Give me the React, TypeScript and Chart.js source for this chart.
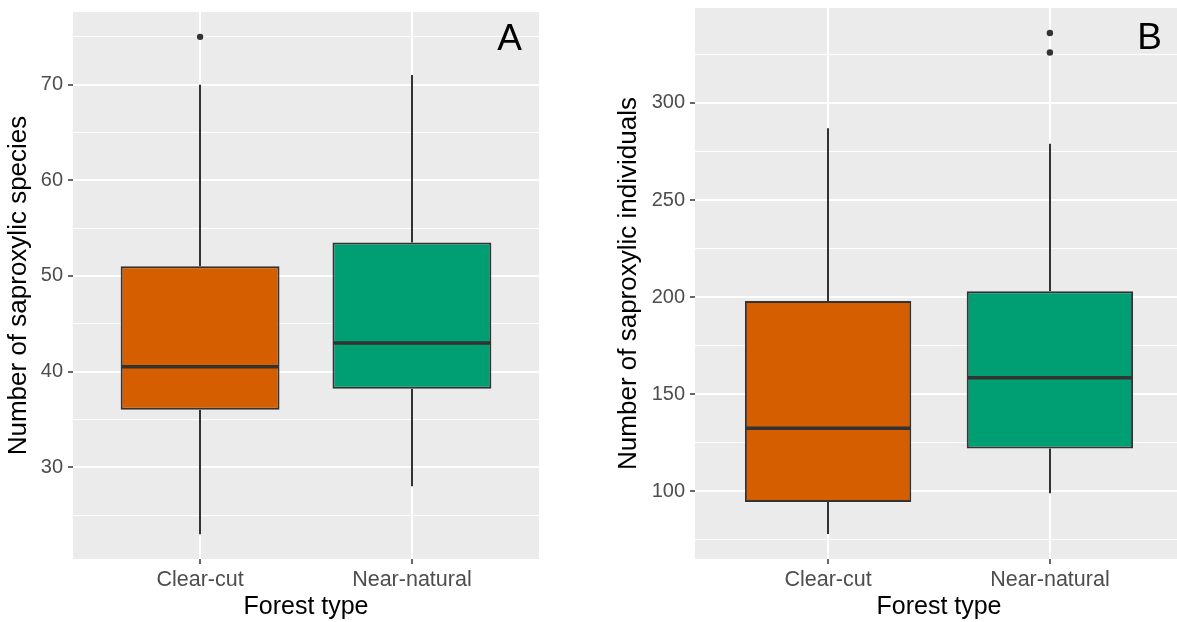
import React, { useEffect, useRef } from 'react';
import { Chart, registerables } from 'chart.js';

Chart.register(...registerables);

// ---------- data ----------
const categories = ['Clear-cut', 'Near-natural'];
const categoryPositions = [1, 2];
const boxColors = ['#D55E00', '#009E73'];

// Panel A: number of saproxylic species
const speciesLower = [23, 28];
const speciesQ1 = [36, 38.2];
const speciesMedian = [40.5, 43];
const speciesQ3 = [51, 53.5];
const speciesUpper = [70, 71];
const speciesOutliers = [[75], []];
const speciesTicks = [30, 40, 50, 60, 70];
const speciesMinorTicks = [25, 35, 45, 55, 65, 75];

// Panel B: number of saproxylic individuals
const individualsLower = [78, 99];
const individualsQ1 = [94.5, 122];
const individualsMedian = [132.5, 158.5];
const individualsQ3 = [198, 203];
const individualsUpper = [287, 279];
const individualsOutliers = [[], [326, 336]];
const individualsTicks = [100, 150, 200, 250, 300];
const individualsMinorTicks = [75, 125, 175, 225, 275, 325];

const FONT = "'Liberation Sans', Arial, Helvetica, sans-serif";

type Panel = {
  letter: string;
  yTitle: string;
  lower: number[];
  q1: number[];
  median: number[];
  q3: number[];
  upper: number[];
  outliers: number[][];
  ticks: number[];
  minorTicks: number[];
  canvasWidth: number;
  yAxisWidth: number;
  padTop: number;
  padRight: number;
  yTitlePad: number;
  letterRight: number;
  letterBaseline: number;
};

const panels: Panel[] = [
  {
    letter: 'A',
    yTitle: 'Number of saproxylic species',
    lower: speciesLower,
    q1: speciesQ1,
    median: speciesMedian,
    q3: speciesQ3,
    upper: speciesUpper,
    outliers: speciesOutliers,
    ticks: speciesTicks,
    minorTicks: speciesMinorTicks,
    canvasWidth: 580,
    yAxisWidth: 73,
    padTop: 12,
    padRight: 41,
    yTitlePad: 3,
    letterRight: 17,
    letterBaseline: 38,
  },
  {
    letter: 'B',
    yTitle: 'Number of saproxylic individuals',
    lower: individualsLower,
    q1: individualsQ1,
    median: individualsMedian,
    q3: individualsQ3,
    upper: individualsUpper,
    outliers: individualsOutliers,
    ticks: individualsTicks,
    minorTicks: individualsMinorTicks,
    canvasWidth: 610,
    yAxisWidth: 115,
    padTop: 8,
    padRight: 7,
    yTitlePad: 33,
    letterRight: 21,
    letterBaseline: 41,
  },
];

const boxExtras = {
  id: 'boxExtras',
  beforeDraw(chart: any) {
    const { ctx, chartArea } = chart;
    ctx.save();
    ctx.fillStyle = '#EBEBEB';
    ctx.fillRect(chartArea.left, chartArea.top, chartArea.right - chartArea.left, chartArea.bottom - chartArea.top);
    ctx.restore();
  },
  beforeDatasetsDraw(chart: any, _args: any, opts: any) {
    const p: Panel = opts.panel;
    const { ctx, scales } = chart;
    const xs = scales.x;
    const ys = scales.y;
    ctx.save();
    ctx.strokeStyle = '#333333';
    ctx.lineWidth = 2;
    categoryPositions.forEach((pos, i) => {
      const x = Math.round(xs.getPixelForValue(pos));
      ctx.beginPath();
      ctx.moveTo(x, ys.getPixelForValue(p.q3[i]));
      ctx.lineTo(x, ys.getPixelForValue(p.upper[i]));
      ctx.moveTo(x, ys.getPixelForValue(p.q1[i]));
      ctx.lineTo(x, ys.getPixelForValue(p.lower[i]));
      ctx.stroke();
    });
    ctx.restore();
  },
  afterDatasetsDraw(chart: any, _args: any, opts: any) {
    const p: Panel = opts.panel;
    const { ctx, scales, chartArea } = chart;
    const ys = scales.y;
    const meta = chart.getDatasetMeta(0);
    ctx.save();
    ctx.strokeStyle = '#333333';
    ctx.lineWidth = 3.5;
    meta.data.forEach((bar: any, i: number) => {
      const y = ys.getPixelForValue(p.median[i]);
      ctx.beginPath();
      ctx.moveTo(bar.x - bar.width / 2 + 1, y);
      ctx.lineTo(bar.x + bar.width / 2 - 1, y);
      ctx.stroke();
    });
    ctx.fillStyle = '#000000';
    ctx.font = `37px ${FONT}`;
    ctx.textAlign = 'right';
    ctx.textBaseline = 'alphabetic';
    ctx.fillText(p.letter, chartArea.right - p.letterRight, chartArea.top + p.letterBaseline);
    ctx.restore();
  },
};

function makeConfig(p: Panel): any {
  const all = [...p.lower, ...p.upper, ...p.outliers.flat()];
  const dMin = Math.min(...all);
  const dMax = Math.max(...all);
  const span = dMax - dMin;
  const yTickValues = [...p.ticks, ...p.minorTicks].sort((a, b) => a - b);
  const outlierPoints = p.outliers.flatMap((vals, i) => vals.map((v) => ({ x: categoryPositions[i], y: v })));
  return {
    type: 'bar',
    data: {
      datasets: [
        {
          type: 'bar',
          data: categoryPositions.map((x, i) => ({ x, y: [p.q1[i], p.q3[i]] })),
          backgroundColor: boxColors,
          borderColor: '#333333',
          borderWidth: 2,
          borderSkipped: false,
          categoryPercentage: 0.75,
          barPercentage: 1,
        },
        {
          type: 'scatter',
          data: outlierPoints,
          pointRadius: 3.2,
          pointBackgroundColor: '#333333',
          pointBorderWidth: 0,
        },
      ],
    },
    options: {
      responsive: false,
      animation: false,
      events: [],
      layout: { padding: { left: 0, top: p.padTop, right: p.padRight, bottom: 0 } },
      plugins: {
        legend: { display: false },
        tooltip: { enabled: false },
        boxExtras: { panel: p },
      },
      scales: {
        x: {
          type: 'linear',
          offset: false,
          min: 0.4,
          max: 2.6,
          afterBuildTicks: (scale: any) => {
            scale.ticks = categoryPositions.map((v) => ({ value: v }));
          },
          afterFit: (scale: any) => {
            scale.height = 63;
            scale.paddingLeft = 0;
            scale.paddingRight = 0;
          },
          border: { display: false },
          grid: {
            offset: false,
            color: '#FFFFFF',
            lineWidth: 2,
            tickColor: '#333333',
            tickWidth: 1.5,
            tickLength: 5,
          },
          ticks: {
            autoSkip: false,
            maxRotation: 0,
            padding: 3,
            color: '#4D4D4D',
            font: { family: FONT, size: 21.5 },
            callback: (v: number) => {
              const idx = categoryPositions.indexOf(v);
              return idx >= 0 ? categories[idx] : '';
            },
          },
          title: {
            display: true,
            text: 'Forest type',
            color: '#000000',
            font: { family: FONT, size: 25, lineHeight: 1.2 },
            padding: { top: 0, bottom: 0 },
          },
        },
        y: {
          type: 'linear',
          min: dMin - 0.05 * span,
          max: dMax + 0.05 * span,
          afterBuildTicks: (scale: any) => {
            scale.ticks = yTickValues.map((v) => ({ value: v }));
          },
          afterFit: (scale: any) => {
            scale.width = p.yAxisWidth;
            scale.paddingTop = 0;
            scale.paddingBottom = 0;
          },
          border: { display: false },
          grid: {
            color: '#FFFFFF',
            lineWidth: (c: any) => (p.ticks.includes(c.tick?.value) ? 2 : 1),
            tickColor: (c: any) => (p.ticks.includes(c.tick?.value) ? '#333333' : 'rgba(0,0,0,0)'),
            tickWidth: 1.5,
            tickLength: 5,
          },
          ticks: {
            autoSkip: false,
            padding: 5,
            color: '#4D4D4D',
            font: { family: FONT, size: 20 },
            callback: (v: number) => (p.ticks.includes(v) ? String(v) : ''),
          },
          title: {
            display: true,
            text: p.yTitle,
            color: '#000000',
            font: { family: FONT, size: 26, lineHeight: 1.2 },
            padding: { top: p.yTitlePad, bottom: 0 },
          },
        },
      },
    },
    plugins: [boxExtras],
  };
}

function PanelChart({ panel, left }: { panel: Panel; left: number }) {
  const ref = useRef<HTMLCanvasElement | null>(null);
  useEffect(() => {
    if (!ref.current) return;
    const chart = new Chart(ref.current, makeConfig(panel));
    return () => chart.destroy();
  }, [panel]);
  return (
    <canvas
      ref={ref}
      width={panel.canvasWidth}
      height={622}
      style={{ position: 'absolute', left, top: 0, width: panel.canvasWidth, height: 622 }}
    />
  );
}

export default function App() {
  return (
    <div
      style={{
        position: 'absolute',
        left: 0,
        top: 0,
        width: 1177,
        height: 622,
        overflow: 'hidden',
        background: '#FFFFFF',
      }}
    >
      <PanelChart panel={panels[0]} left={0} />
      <PanelChart panel={panels[1]} left={580} />
    </div>
  );
}
